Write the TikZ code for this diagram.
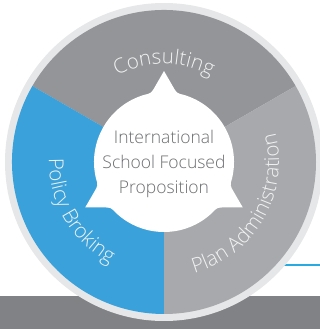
\documentclass[tikz,border=0pt]{standalone}
\usepackage{fontspec}
\setmainfont{Open Sans Light}
\usetikzlibrary{calc,decorations.text}
\definecolor{ringgray}{HTML}{E6E7E8}
\definecolor{consultgray}{HTML}{939598}
\definecolor{plangray}{HTML}{A7A9AC}
\definecolor{brokeblue}{HTML}{3AA1DB}
\definecolor{bandgray}{HTML}{808285}
\definecolor{linecyan}{HTML}{29ABE2}
\definecolor{centertext}{HTML}{6D6E71}
\definecolor{sectortext}{HTML}{F1F2F2}
\tikzset{
  sectortxt/.style={decorate,decoration={text along path,text align=center,
    text={|\fontsize{20.5}{24}\selectfont\color{sectortext}|#1}}},
}
\begin{document}
\begin{tikzpicture}[x=1pt,y=1pt]
\useasboundingbox (0,0) rectangle (320,329);
% bottom band and thin line
\fill[bandgray] (0,0) rectangle (320,33);
\draw[linecyan,line width=1.5pt] (250,64) -- (320,64);
\begin{scope}[shift={(164,167)}]
  \coordinate (c) at (0,0);
  \fill[ringgray] (c) circle[radius=159pt];
  \fill[consultgray] (c) -- (30:152) arc[start angle=30,end angle=150,radius=152pt] -- cycle;
  \fill[brokeblue] (c) -- (150:152) arc[start angle=150,end angle=270,radius=152pt] -- cycle;
  \fill[plangray] (c) -- (270:152) arc[start angle=270,end angle=390,radius=152pt] -- cycle;
  % white centre shape
  \fill[white] (90:91) -- ($(90:91)!0.7!(100.5:70)$) .. controls (100.5:70) .. (106.5:70)
    arc[start angle=106.5,end angle=193.5,radius=70pt]
    .. controls (199.5:70) .. ($(210:91)!0.7!(199.5:70)$) -- (210:91)
    -- ($(210:91)!0.7!(220.5:70)$) .. controls (220.5:70) .. (226.5:70)
    arc[start angle=226.5,end angle=313.5,radius=70pt]
    .. controls (319.5:70) .. ($(330:91)!0.7!(319.5:70)$) -- (330:91)
    -- ($(330:91)!0.7!(340.5:70)$) .. controls (340.5:70) .. (346.5:70)
    arc[start angle=346.5,end angle=433.5,radius=70pt]
    .. controls (439.5:70) .. ($(90:91)!0.7!(79.5:70)$) -- cycle;
  % curved sector labels
  \path[sectortxt={Consulting}] (150:98) arc[start angle=150,end angle=30,radius=98pt];
  \path[sectortxt={Policy Broking}] (150:115) arc[start angle=150,end angle=270,radius=115pt];
  \path[sectortxt={Plan Administration}] (270:115) arc[start angle=270,end angle=390,radius=115pt];
  \node[align=center,text=centertext,font=\fontsize{17.5}{25}\selectfont,inner sep=0pt] (centre) at (0,-1.5)
    {International\\School Focused\\Proposition};
\end{scope}
\end{tikzpicture}
\end{document}
